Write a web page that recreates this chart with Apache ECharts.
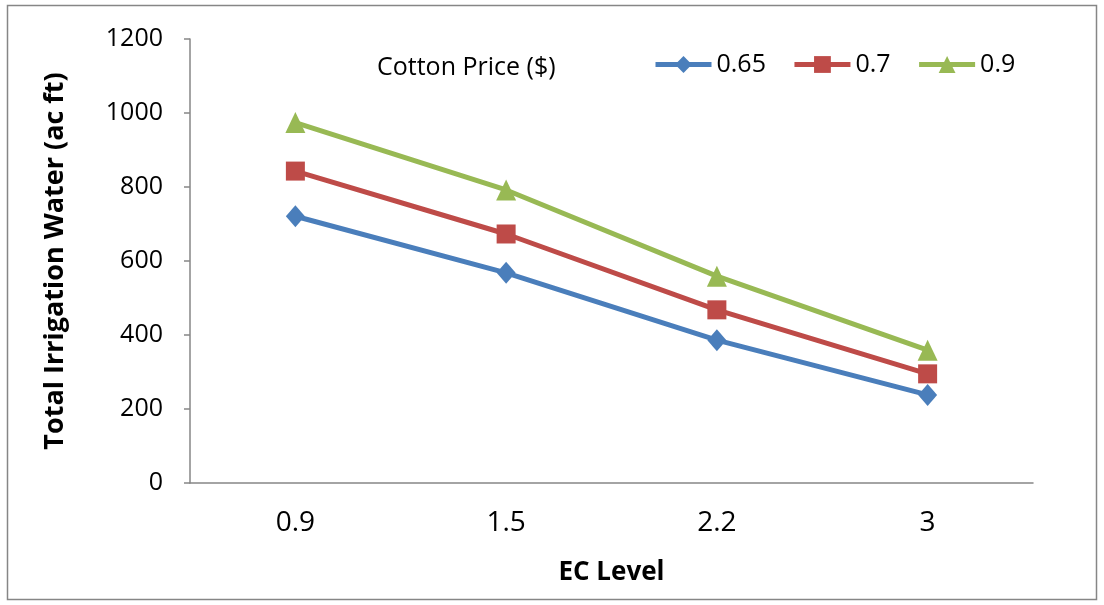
<!DOCTYPE html>
<html>
<head>
<meta charset="utf-8">
<script src="https://cdn.jsdelivr.net/npm/echarts@6/dist/echarts.min.js"></script>
<style>
  html, body { margin: 0; padding: 0; background: #fff; }
  #chart { width: 1104px; height: 605px; }
</style>
</head>
<body>
<div id="chart"></div>
<script>
// EC levels on the x axis
const ecLevels = ['0.9', '1.5', '2.2', '3']
// total irrigation water (ac ft), one list per cotton price
const price065 = [721, 568, 386, 238]
const price070 = [843, 673, 468, 295]
const price090 = [974, 792, 559, 359]
const yTicks = [0, 200, 400, 600, 800, 1000, 1200]

const axisGrey = '#868686'
const font = 'Open Sans'

function lineSeries (name, data, color, symbol, size) {
  return {
    name: name,
    type: 'line',
    data: data,
    symbol: symbol,
    symbolSize: size,
    lineStyle: { width: 5, color: color },
    itemStyle: { color: color },
    emphasis: { disabled: true }
  }
}

const chart = echarts.init(document.getElementById('chart'))
chart.setOption({
  animation: false,
  backgroundColor: '#fff',
  grid: { left: 190, right: 71, top: 39, bottom: 122 },
  graphic: [
    {
      type: 'rect',
      shape: { x: 7.5, y: 5.5, width: 1089, height: 594 },
      style: { fill: 'none', stroke: axisGrey, lineWidth: 1.5 }
    },
    {
      type: 'text',
      left: 377,
      top: 55,
      style: { text: 'Cotton Price ($)', fontSize: 25, fontFamily: font, fill: '#000' }
    }
  ],
  legend: {
    left: 653,
    top: 52,
    padding: 0,
    itemWidth: 56,
    itemHeight: 21,
    itemGap: 26,
    lineStyle: { width: 5 },
    textStyle: { fontSize: 25, fontFamily: font, color: '#000' },
    data: ['0.65', '0.7', '0.9']
  },
  xAxis: {
    type: 'category',
    data: ecLevels,
    name: 'EC Level',
    nameLocation: 'middle',
    nameGap: 77,
    nameTextStyle: { fontSize: 26, fontWeight: 'bold', fontFamily: font, color: '#000' },
    axisLine: { lineStyle: { color: axisGrey, width: 1.5 } },
    axisTick: { inside: true, length: 10, lineStyle: { color: axisGrey, width: 1.5 } },
    axisLabel: { margin: 26, fontSize: 28, fontFamily: font, color: '#000' },
    splitLine: { show: false }
  },
  yAxis: {
    type: 'value',
    min: yTicks[0],
    max: yTicks[yTicks.length - 1],
    interval: yTicks[1] - yTicks[0],
    name: 'Total Irrigation Water (ac ft)',
    nameLocation: 'middle',
    nameGap: 121,
    nameTextStyle: { fontSize: 27, fontWeight: 'bold', fontFamily: font, color: '#000' },
    axisLine: { show: true, lineStyle: { color: axisGrey, width: 1.5 } },
    axisTick: { show: true, length: 6, lineStyle: { color: axisGrey, width: 1.5 } },
    axisLabel: {
      margin: 27,
      fontSize: 25,
      fontFamily: font,
      color: '#000',
      formatter: v => String(v)
    },
    splitLine: { show: false }
  },
  series: [
    lineSeries('0.65', price065, '#4A7EBB', 'diamond', [19, 22]),
    lineSeries('0.7', price070, '#BE4B48', 'rect', 19),
    lineSeries('0.9', price090, '#98B954', 'triangle', [20, 21])
  ]
})
</script>
</body>
</html>
